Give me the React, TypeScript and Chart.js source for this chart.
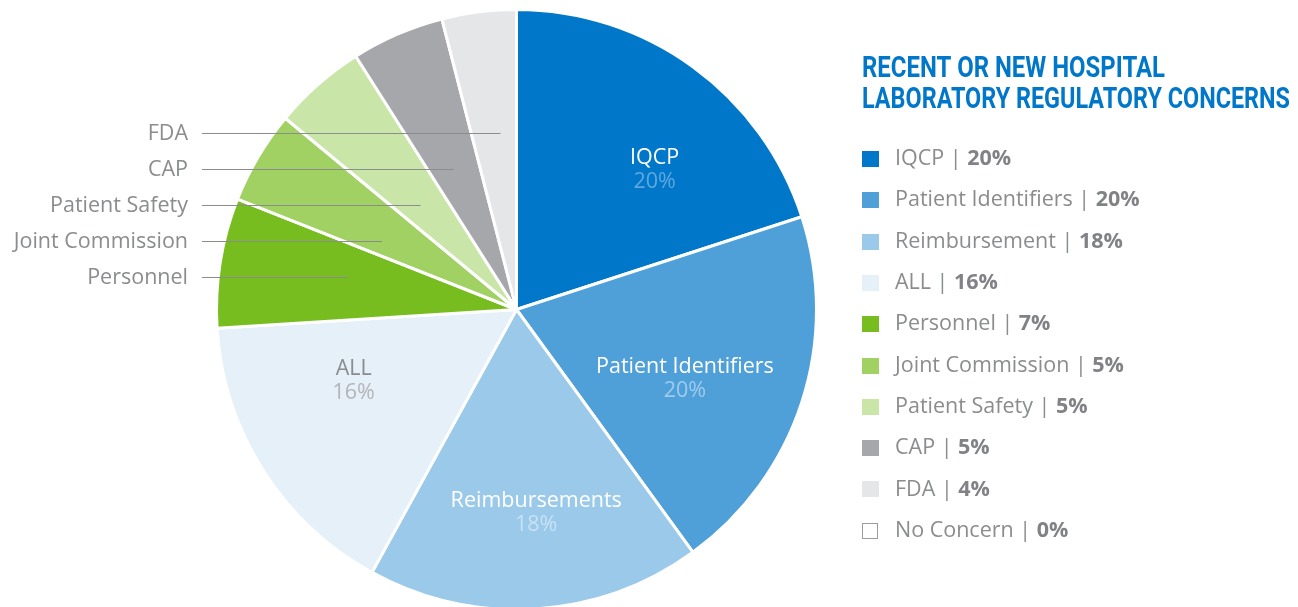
import { useEffect, useRef } from "react";
import { Chart, registerables } from "chart.js";

Chart.register(...registerables);

// ---- data ----
const categories = [
  "IQCP",
  "Patient Identifiers",
  "Reimbursement",
  "ALL",
  "Personnel",
  "Joint Commission",
  "Patient Safety",
  "CAP",
  "FDA",
  "No Concern",
];
const sliceLabels = [
  "IQCP",
  "Patient Identifiers",
  "Reimbursements",
  "ALL",
  "Personnel",
  "Joint Commission",
  "Patient Safety",
  "CAP",
  "FDA",
  "No Concern",
];
const percentages = [20, 20, 18, 16, 7, 5, 5, 5, 4, 0];
const sliceColors = [
  "#0077C8",
  "#4FA0D8",
  "#9AC9E9",
  "#E5F0F9",
  "#78BD20",
  "#A0D162",
  "#C9E6A8",
  "#A6A7AB",
  "#E5E6E8",
  "#FFFFFF",
];
const titleLines = ["RECENT OR NEW HOSPITAL", "LABORATORY REGULATORY CONCERNS"];

// ---- styling helpers (not data) ----
const FONT = "'Open Sans', 'Noto Sans', sans-serif";
const FS = 21.5;
const GREY_TEXT = "#8A8C8E";
const insideNameColors = ["#FFFFFF", "#FFFFFF", "#FFFFFF", "#8A8C8E"];
const insidePctColors = ["#5EA8E0", "#9FCBED", "#C8E1F4", "#B3B5B7"];
// label anchor inside slice: fraction along the slice angle, fraction of radius
const insideAnchor = [
  [0.62, 0.655],
  [0.56, 0.607],
  [0.47, 0.68],
  [0.65, 0.593],
];
// leader lines for small slices: [slice index, angle fraction]
const leaderSlices = [
  [8, 0.64],
  [7, 0.46],
  [6, 0.43],
  [5, 0.29],
  [4, 0.57],
];

const overlayPlugin = {
  id: "overlay",
  afterDraw(chart: any) {
    const ctx: CanvasRenderingContext2D = chart.ctx;
    const meta = chart.getDatasetMeta(0);
    const arcs = meta.data;
    const labels: string[] = chart.data.labels;
    const values: number[] = chart.data.datasets[0].data;
    const colors: string[] = chart.data.datasets[0].backgroundColor;

    ctx.save();

    // inside labels
    for (let i = 0; i < 4; i++) {
      const a = arcs[i].getProps(["x", "y", "startAngle", "endAngle", "outerRadius"], true);
      const [af, rf] = insideAnchor[i];
      const ang = a.startAngle + (a.endAngle - a.startAngle) * af;
      const r = a.outerRadius * rf;
      const cx = a.x + Math.cos(ang) * r;
      const cy = a.y + Math.sin(ang) * r;
      ctx.textAlign = "center";
      ctx.textBaseline = "middle";
      ctx.font = `400 ${FS}px ${FONT}`;
      ctx.fillStyle = insideNameColors[i];
      ctx.fillText(sliceLabels[i], cx, cy - 12);
      ctx.fillStyle = insidePctColors[i];
      ctx.fillText(values[i] + "%", cx, cy + 12);
    }

    // leader labels for small slices
    const a0 = arcs[0].getProps(["x", "y", "outerRadius"], true);
    leaderSlices.forEach(([idx, af], k) => {
      const a = arcs[idx].getProps(["x", "y", "startAngle", "endAngle"], true);
      const ly = Math.round(a0.y - a0.outerRadius * 0.59 + 36 * k) + 0.5;
      const ang = a.startAngle + (a.endAngle - a.startAngle) * af;
      const dy = ly - a.y;
      const ex = a.x + (dy / Math.sin(ang)) * Math.cos(ang);
      ctx.strokeStyle = "#8A8C8E";
      ctx.lineWidth = 1;
      ctx.beginPath();
      ctx.moveTo(202, ly);
      ctx.lineTo(ex, ly);
      ctx.stroke();
      ctx.textAlign = "right";
      ctx.textBaseline = "middle";
      ctx.font = `400 ${FS}px ${FONT}`;
      ctx.fillStyle = GREY_TEXT;
      ctx.fillText(sliceLabels[idx], 188, ly);
    });

    // title
    ctx.fillStyle = "#0077C8";
    ctx.textAlign = "left";
    ctx.textBaseline = "alphabetic";
    ctx.font = `700 29px Roboto, 'DejaVu Sans', sans-serif`;
    const titleWidths = [303, 428];
    const titleBase = [77, 108];
    titleLines.forEach((t, i) => {
      const w = ctx.measureText(t).width;
      ctx.save();
      ctx.translate(862, titleBase[i]);
      ctx.scale(titleWidths[i] / w, 1);
      ctx.fillText(t, 0, 0);
      ctx.restore();
    });

    // legend
    labels.forEach((lab, i) => {
      const yc = 159 + i * 41.3;
      if (values[i] === 0) {
        ctx.fillStyle = "#FFFFFF";
        ctx.fillRect(862, yc - 8, 16, 16);
        ctx.strokeStyle = "#9A9C9E";
        ctx.lineWidth = 1;
        ctx.strokeRect(862.5, Math.round(yc - 8) + 0.5, 15, 15);
      } else {
        ctx.fillStyle = colors[i];
        ctx.fillRect(862, Math.round(yc - 8), 17, 16);
      }
      ctx.textAlign = "left";
      ctx.textBaseline = "middle";
      ctx.font = `400 ${FS}px ${FONT}`;
      ctx.fillStyle = GREY_TEXT;
      const head = lab + " | ";
      ctx.fillText(head, 895, yc);
      const hw = ctx.measureText(head).width;
      ctx.font = `700 ${FS}px ${FONT}`;
      ctx.fillStyle = "#808285";
      ctx.fillText(values[i] + "%", 895 + hw, yc);
    });

    ctx.restore();
  },
};

export default function App() {
  const ref = useRef<HTMLCanvasElement>(null);
  useEffect(() => {
    if (!ref.current) return;
    const chart = new Chart(ref.current, {
      type: "pie",
      data: {
        labels: categories,
        datasets: [
          {
            data: percentages,
            backgroundColor: sliceColors,
            borderColor: "#FFFFFF",
            borderWidth: 3,
            hoverOffset: 0,
          },
        ],
      },
      options: {
        responsive: false,
        animation: false,
        events: [],
        layout: { padding: { left: 215, right: 480, top: 8, bottom: 9 } },
        plugins: {
          legend: { display: false },
          tooltip: { enabled: false },
          title: { display: false },
        },
      },
      plugins: [overlayPlugin],
    });
    let alive = true;
    (document as any).fonts?.ready?.then(() => {
      if (alive) chart.draw();
    });
    return () => {
      alive = false;
      chart.destroy();
    };
  }, []);
  return (
    <div
      style={{
        position: "fixed",
        left: 0,
        top: 0,
        width: 1298,
        height: 607,
        overflow: "hidden",
        background: "#FFFFFF",
      }}
    >
      <canvas ref={ref} width={1298} height={620} style={{ display: "block" }} />
    </div>
  );
}
